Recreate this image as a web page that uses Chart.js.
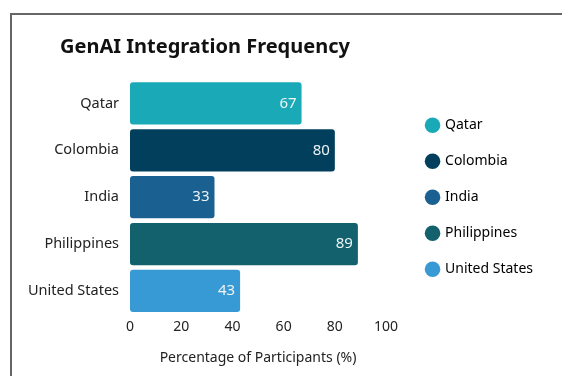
<!DOCTYPE html>
<html>
<head>
<meta charset="utf-8">
<script src="https://cdn.jsdelivr.net/npm/chart.js@4/dist/chart.umd.min.js"></script>
<style>
  html, body { margin: 0; padding: 0; background: #fff; }
  #wrap { position: relative; width: 562px; height: 376px; overflow: hidden; }
  #frame { position: absolute; left: 10px; top: 13px; width: 600px; height: 400px;
           border-top: 2px solid #666; border-left: 2px solid #666; }
  #chart { position: absolute; left: 0; top: 0; }
</style>
</head>
<body>
<div id="wrap">
  <div id="frame"></div>
  <canvas id="chart" width="562" height="376"></canvas>
</div>
<script>
const categories = ['Qatar', 'Colombia', 'India', 'Philippines', 'United States'];
const values = [67, 80, 33, 89, 43];
const colors = ['#19a9b7', '#023f5c', '#1a6090', '#12616d', '#389ad5'];

Chart.defaults.font.family = 'Noto Sans';
Chart.defaults.color = '#222';

// value labels inside bar ends, and title shifted to its own left edge
const barLabels = {
  id: 'barLabels',
  afterLayout(chart) {
    if (chart.titleBlock) chart.titleBlock.left = 60;
  },
  afterDatasetsDraw(chart) {
    const ctx = chart.ctx;
    const meta = chart.getDatasetMeta(0);
    ctx.save();
    ctx.font = '15px "Noto Sans"';
    ctx.fillStyle = '#eef4f5';
    ctx.textAlign = 'right';
    ctx.textBaseline = 'middle';
    meta.data.forEach(function (bar, i) {
      ctx.fillText(String(values[i]), bar.x - 5, bar.y);
    });
    ctx.restore();
  }
};

var ctx = document.getElementById('chart');
var myChart = new Chart(ctx, {
  type: 'bar',
  plugins: [barLabels],
  data: {
    labels: categories,
    datasets: [{
      data: values,
      backgroundColor: colors,
      borderRadius: 3,
      borderSkipped: false,
      barPercentage: 0.9,
      categoryPercentage: 1,
    }]
  },
  options: {
    indexAxis: 'y',
    responsive: false,
    animation: false,
    layout: {
      padding: { left: 10, right: 19, top: 0, bottom: 6 }
    },
    plugins: {
      title: {
        display: true,
        text: 'GenAI Integration Frequency',
        align: 'start',
        color: '#111',
        font: { size: 20, weight: 'bold' },
        padding: { top: 35, bottom: 21 },
      },
      legend: {
        position: 'right',
        fullSize: false,
        maxWidth: 170,
        labels: {
          usePointStyle: true,
          pointStyle: 'circle',
          boxWidth: 11,
          boxHeight: 11,
          padding: 22,
          color: '#222',
          font: { size: 14 },
          generateLabels: function () {
            return categories.map(function (c, i) {
              return { text: c, fillStyle: colors[i], strokeStyle: colors[i], lineWidth: 0, pointStyle: 'circle', index: i };
            });
          }
        }
      },
      tooltip: { enabled: false },
    },
    scales: {
      x: {
        min: 0,
        max: 100,
        grid: { display: false, drawTicks: false },
        border: { display: false },
        ticks: { stepSize: 20, padding: 4, font: { size: 14 }, color: '#222' },
        title: {
          display: true,
          text: 'Percentage of Participants (%)',
          font: { size: 14 },
          color: '#222',
          padding: { top: 10, bottom: 4 },
        },
      },
      y: {
        grid: { display: false, drawTicks: false },
        border: { display: false },
        ticks: { padding: 11, font: { size: 14.5 }, color: '#222' },
        afterFit: function (scale) { scale.width = 120; },
      },
      gap: {
        type: 'linear',
        position: 'right',
        grid: { display: false, drawTicks: false },
        border: { display: false },
        ticks: { display: false },
        afterFit: function (scale) { scale.width = 19; },
      },
    },
  },
});
</script>
</body>
</html>
